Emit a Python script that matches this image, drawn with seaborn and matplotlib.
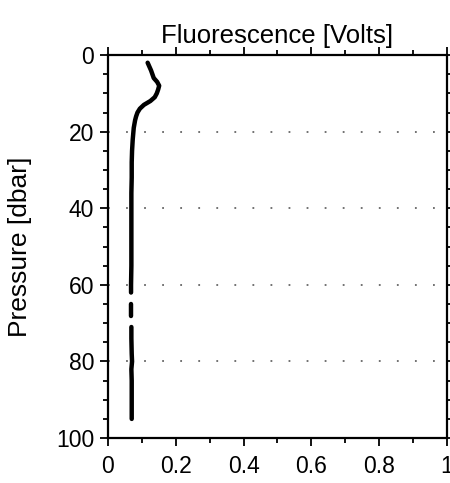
import matplotlib
matplotlib.use("Agg")
import matplotlib.pyplot as plt
import pandas as pd
import seaborn as sns
from matplotlib.ticker import MultipleLocator

sns.set_style("ticks")
plt.rcParams["font.family"] = ["Liberation Sans", "DejaVu Sans"]
plt.rcParams["text.color"] = "black"
plt.rcParams["axes.labelcolor"] = "black"
plt.rcParams["xtick.color"] = "black"
plt.rcParams["ytick.color"] = "black"

# profile values, split where the trace has gaps
pressure = [2, 3, 4, 5, 6, 7, 8, 9, 10, 11, 12, 13, 14, 15, 16, 17, 18, 19, 20,
            22, 25, 28, 32, 36, 40, 45, 50, 55, 60, 62,
            65, 66, 67, 68,
            71, 74, 78, 80, 82, 85, 88, 91, 95]
fluorescence = [0.117, 0.122, 0.127, 0.131, 0.135, 0.145, 0.151, 0.148, 0.144,
                0.138, 0.125, 0.106, 0.094, 0.087, 0.083, 0.080, 0.078, 0.076,
                0.075, 0.073, 0.071, 0.070, 0.070, 0.069, 0.069, 0.069, 0.069,
                0.069, 0.068, 0.068,
                0.069, 0.069, 0.069, 0.069,
                0.069, 0.069, 0.070, 0.071, 0.069, 0.070, 0.070, 0.070, 0.070]
segment = [0] * 30 + [1] * 4 + [2] * 9

x_ticks = [0, 0.2, 0.4, 0.6, 0.8, 1]
x_labels = ["0", "0.2", "0.4", "0.6", "0.8", "1"]
y_ticks = [0, 20, 40, 60, 80, 100]
grid_levels = [20, 40, 60, 80]

df = pd.DataFrame({"pressure": pressure, "fluorescence": fluorescence,
                   "segment": segment})

fig = plt.figure(figsize=(4.5, 4.83), dpi=100)
ax = fig.add_axes([0.24, 0.093, 0.753, 0.793])

for lev in grid_levels:
    ax.axhline(lev, color="0.4", lw=1.3, ls=(0, (1, 9)), zorder=0)

sns.lineplot(data=df, x="fluorescence", y="pressure", units="segment",
             estimator=None, sort=False, color="black", lw=3.2, ax=ax,
             legend=False)

ax.set_xlim(0, 1)
ax.set_ylim(100, 0)
ax.set_xticks(x_ticks, x_labels)
ax.set_yticks(y_ticks, [str(v) for v in y_ticks])
ax.xaxis.set_minor_locator(MultipleLocator(0.1))
ax.yaxis.set_minor_locator(MultipleLocator(5))

ax.tick_params(axis="both", which="major", labelsize=16.5, width=1.3,
               length=6, color="black", top=True, right=True,
               labeltop=False, labelright=False, direction="out")
ax.tick_params(axis="both", which="minor", width=1.3, length=3.5,
               top=True, right=True, direction="out")
ax.tick_params(axis="x", which="major", pad=6)
ax.tick_params(axis="y", which="major", pad=4)

for sp in ax.spines.values():
    sp.set_visible(True)
    sp.set_linewidth(1.6)
    sp.set_color("black")

ax.set_xlabel("")
ax.set_ylabel("Pressure [dbar]", fontsize=19, labelpad=17)
ax.set_title("Fluorescence [Volts]", fontsize=18.5, pad=9)

fig.savefig("out.png", dpi=100)
